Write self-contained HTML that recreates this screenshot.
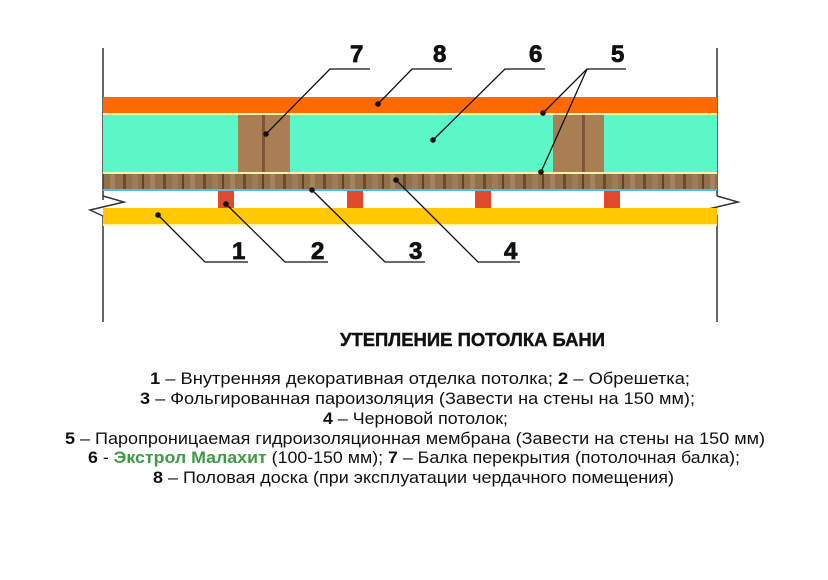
<!DOCTYPE html>
<html><head><meta charset="utf-8"><style>
html,body{margin:0;padding:0;background:#fff;}
svg{display:block}
</style></head><body>
<svg width="828" height="580" viewBox="0 0 828 580" xmlns="http://www.w3.org/2000/svg" font-family="'Liberation Sans', sans-serif">
<defs>
<pattern id="wood" width="40" height="15" patternUnits="userSpaceOnUse">
<rect width="40" height="15" fill="#93704a"/>
<rect x="3" width="3" height="15" fill="#6e4a2a"/>
<rect x="12" width="6" height="15" fill="#a07c55"/>
<rect x="22" width="2" height="15" fill="#654225"/>
<rect x="30" width="5" height="15" fill="#a5835c"/>
</pattern>
</defs>
<line x1="103" y1="48" x2="103" y2="200" stroke="#333" stroke-width="1.5"/>
<line x1="103" y1="216" x2="103" y2="322" stroke="#333" stroke-width="1.5"/>
<polyline points="103,196 124,202 90,210 103,216" fill="none" stroke="#333" stroke-width="1.5"/>
<line x1="717" y1="48" x2="717" y2="196" stroke="#333" stroke-width="1.5"/>
<line x1="717" y1="215" x2="717" y2="322" stroke="#333" stroke-width="1.5"/>
<polyline points="717,196 738,202 704,210 717,215" fill="none" stroke="#333" stroke-width="1.5"/>
<rect x="103" y="97" width="614" height="16" fill="#ff6a00"/>
<rect x="103" y="113" width="614" height="2" fill="#fff3a8"/>
<rect x="103" y="115" width="614" height="57" fill="#5cf7c6"/>
<rect x="238" y="115" width="52" height="57" fill="#a97e52"/>
<rect x="262" y="115" width="3" height="57" fill="#7d5634"/>
<rect x="553" y="115" width="51" height="57" fill="#a97e52"/>
<rect x="582" y="115" width="3" height="57" fill="#7d5634"/>
<rect x="103" y="172" width="614" height="2" fill="#fff3a8"/>
<rect x="103" y="174" width="614" height="15" fill="url(#wood)"/>
<rect x="103" y="189" width="614" height="2" fill="#5bb8d8"/>
<rect x="218" y="191" width="16" height="17" fill="#e04a2a"/>
<rect x="347" y="191" width="16" height="17" fill="#e04a2a"/>
<rect x="475" y="191" width="16" height="17" fill="#e04a2a"/>
<rect x="604" y="191" width="16" height="17" fill="#e04a2a"/>
<rect x="103" y="208" width="614" height="16" fill="#ffc800"/>
<rect x="103" y="224" width="614" height="2" fill="#fff3a8"/>
<g stroke="#111" stroke-width="1.3" fill="none">
<polyline points="370,69 330,69 266,134"/>
<polyline points="452,69 412,69 378,104"/>
<polyline points="545,69 505,69 433,140"/>
<polyline points="626,69 587,69 543,113"/>
<polyline points="587,69 541,172"/>
<polyline points="158,215 205,262 248,262"/>
<polyline points="226,204 285,262 328,262"/>
<polyline points="312,190 385,262 425,262"/>
<polyline points="396,180 478,262 520,262"/>
</g>
<g fill="#111">
<circle cx="266" cy="134" r="2.8"/><circle cx="378" cy="104" r="2.8"/><circle cx="433" cy="140" r="2.8"/>
<circle cx="543" cy="113" r="2.8"/><circle cx="541" cy="172" r="2.8"/>
<circle cx="158" cy="215" r="2.8"/><circle cx="226" cy="204" r="2.8"/><circle cx="312" cy="190" r="2.8"/><circle cx="396" cy="180" r="2.8"/>
</g>
<g font-size="24" fill="#111" style="font-weight:bold">
<text x="350" y="62" font-weight="bold" stroke="#111" stroke-width="0.8">7</text><text x="433" y="62" font-weight="bold" stroke="#111" stroke-width="0.8">8</text><text x="529" y="62" font-weight="bold" stroke="#111" stroke-width="0.8">6</text><text x="611" y="62" font-weight="bold" stroke="#111" stroke-width="0.8">5</text>
<text x="232" y="259" font-weight="bold" stroke="#111" stroke-width="0.8">1</text><text x="311" y="259" font-weight="bold" stroke="#111" stroke-width="0.8">2</text><text x="409" y="259" font-weight="bold" stroke="#111" stroke-width="0.8">3</text><text x="504" y="259" font-weight="bold" stroke="#111" stroke-width="0.8">4</text>
</g>
<text x="340" y="346" font-weight="bold" font-size="18" fill="#111" stroke="#111" stroke-width="0.4" textLength="265" lengthAdjust="spacingAndGlyphs">УТЕПЛЕНИЕ ПОТОЛКА БАНИ</text>
<g font-size="17" fill="#111">
<text x="150" y="384" textLength="540" lengthAdjust="spacingAndGlyphs"><tspan font-weight="bold">1</tspan> – Внутренняя декоративная отделка потолка; <tspan font-weight="bold">2</tspan> – Обрешетка;</text>
<text x="140" y="404" textLength="555" lengthAdjust="spacingAndGlyphs"><tspan font-weight="bold">3</tspan> – Фольгированная пароизоляция (Завести на стены на 150 мм);</text>
<text x="323" y="424" textLength="185" lengthAdjust="spacingAndGlyphs"><tspan font-weight="bold">4</tspan> – Черновой потолок;</text>
<text x="65" y="444" textLength="700" lengthAdjust="spacingAndGlyphs"><tspan font-weight="bold">5</tspan> – Паропроницаемая гидроизоляционная мембрана (Завести на стены на 150 мм)</text>
<text x="88" y="463" textLength="652" lengthAdjust="spacingAndGlyphs"><tspan font-weight="bold">6</tspan> - <tspan font-weight="bold" fill="#3f9a45">Экстрол Малахит</tspan> (100-150 мм); <tspan font-weight="bold">7</tspan> – Балка перекрытия (потолочная балка);</text>
<text x="153" y="483" textLength="521" lengthAdjust="spacingAndGlyphs"><tspan font-weight="bold">8</tspan> – Половая доска (при эксплуатации чердачного помещения)</text>
</g>
</svg>
</body></html>
